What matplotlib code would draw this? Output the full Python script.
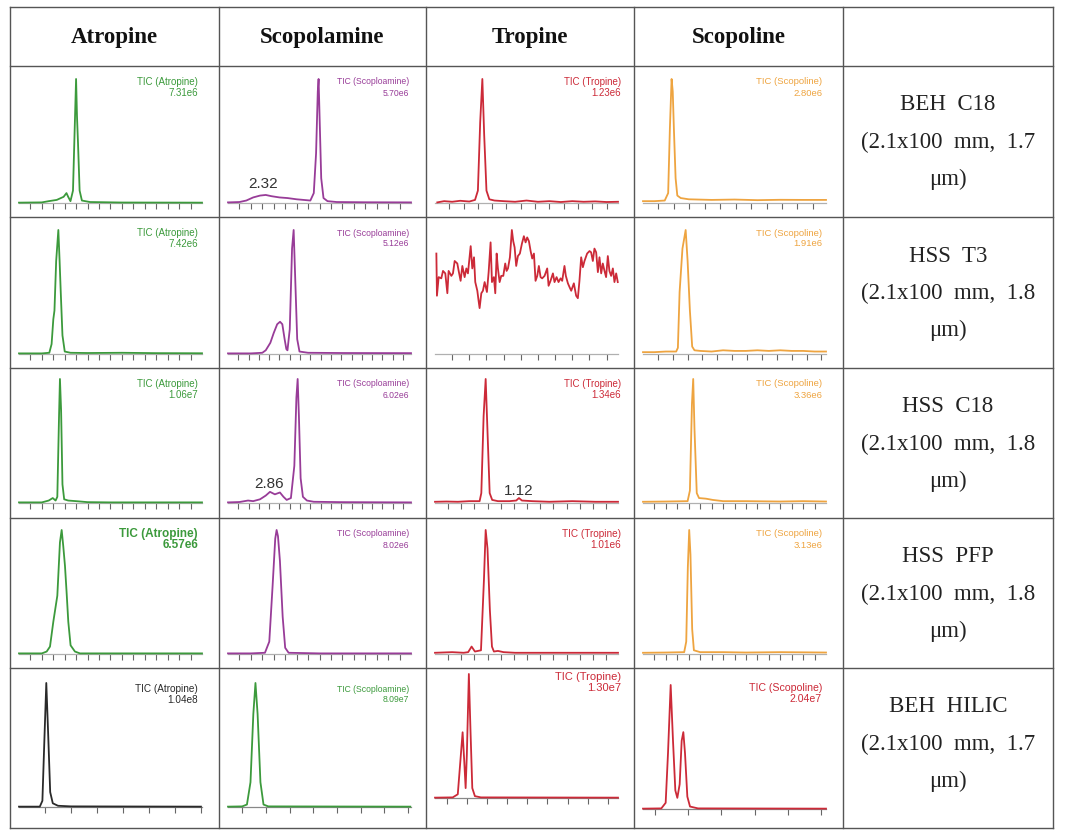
import numpy as np
import matplotlib
matplotlib.use('Agg')
import matplotlib.pyplot as plt

# column / row headers
compounds = ['Atropine', 'Scopolamine', 'Tropine', 'Scopoline']
columns = [['BEH  C18', '(2.1x100  mm,  1.7', '\u03bcm)'],
           ['HSS  T3', '(2.1x100  mm,  1.8', '\u03bcm)'],
           ['HSS  C18', '(2.1x100  mm,  1.8', '\u03bcm)'],
           ['HSS  PFP', '(2.1x100  mm,  1.8', '\u03bcm)'],
           ['BEH  HILIC', '(2.1x100  mm,  1.7', '\u03bcm)']]

# TIC labels (name, max intensity) per row
tic_names = ['TIC (Atropine)', 'TIC (Scoploamine)', 'TIC (Tropine)', 'TIC (Scopoline)']
tic_max = [['7.31e6', '5.70e6', '1.23e6', '2.80e6'],
           ['7.42e6', '5.12e6', '', '1.91e6'],
           ['1.06e7', '6.02e6', '1.34e6', '3.36e6'],
           ['6.57e6', '8.02e6', '1.01e6', '3.13e6'],
           ['1.04e8', '8.09e7', '1.30e7', '2.04e7']]

# ---- chromatograms: time (min) and relative intensity (%) ----
# BEH C18
atr_beh_t = [0, 2.0, 2.6, 3.3, 3.9, 4.15, 4.3, 4.5, 4.72, 4.9, 4.99, 5.07, 5.16, 5.3, 5.5, 6.2, 9, 16]
atr_beh_i = [0.3, 0.5, 1.5, 2.5, 5, 8, 5, 1.5, 10, 70, 100, 70, 48, 10, 2, 0.8, 0.4, 0.3]
scp_beh_t = [0, 1.0, 1.6, 2.2, 2.8, 3.3, 3.8, 4.5, 5.2, 6.0, 6.6, 7.2, 7.5, 7.7, 7.85, 7.92, 8.02, 8.15, 8.35, 8.7, 9.5, 12, 16]
scp_beh_i = [0.5, 0.8, 2, 4.5, 6, 6.5, 5.5, 4.5, 4, 3, 2.5, 2, 8, 40, 90, 100, 65, 20, 4, 1.5, 0.8, 0.6, 0.5]
trp_beh_t = [0.2, 0.8, 1.5, 2.2, 3.0, 3.5, 3.75, 3.95, 4.14, 4.3, 4.5, 4.75, 5.2, 6.0, 7.0, 8.0, 9.0, 10.0, 11.0, 12.0, 13.0, 14.0, 15.0, 16.0]
trp_beh_i = [0.5, 1.5, 1, 1.8, 1.2, 2.5, 10, 65, 100, 55, 10, 3, 2, 1.5, 1, 2, 1, 1.5, 0.8, 1.5, 1, 1.3, 0.8, 1]
scl_beh_t = [0, 1.0, 1.9, 2.2, 2.35, 2.5, 2.6, 2.7, 2.85, 3.0, 3.3, 4.0, 6.0, 8.0, 10.0, 12.0, 14.0, 16.0]
scl_beh_i = [1.5, 1.5, 2, 8, 60, 100, 90, 60, 20, 6, 4, 3, 2.5, 2.8, 2.3, 2.6, 2.5, 2.5]

# HSS T3
atr_t3_t = [0, 2.0, 2.65, 2.85, 3.0, 3.1, 3.25, 3.44, 3.55, 3.65, 3.8, 4.0, 4.5, 6, 9, 12, 16]
atr_t3_i = [0.5, 0.5, 1, 8, 28, 35, 75, 100, 75, 50, 15, 2, 1, 0.8, 1, 0.7, 0.6]
scp_t3_t = [0, 2.0, 3.0, 3.3, 3.7, 4.0, 4.3, 4.55, 4.75, 4.95, 5.1, 5.2, 5.4, 5.6, 5.74, 5.88, 6.05, 6.25, 7.0, 10, 16]
scp_t3_i = [0.5, 0.5, 1, 3, 9, 17, 24, 26, 24, 12, 4, 3, 20, 85, 100, 60, 12, 2, 1, 0.8, 0.7]
trp_t3_t = [0.12, 0.17, 0.32, 0.55, 0.70, 0.90, 1.08, 1.19, 1.43, 1.57, 1.72, 1.95, 2.07, 2.24, 2.39,
            2.59, 2.74, 2.88, 3.12, 3.26, 3.41, 3.52, 3.70, 3.81, 3.90, 4.05, 4.19, 4.34, 4.54, 4.69,
            4.86, 4.98, 5.15, 5.27, 5.39, 5.50, 5.65, 5.79, 5.97, 6.14, 6.26, 6.38, 6.55, 6.72, 6.84,
            6.96, 7.10, 7.25, 7.42, 7.60, 7.77, 7.92, 8.06, 8.21, 8.36, 8.50, 8.65, 8.79, 8.94, 9.08,
            9.23, 9.37, 9.58, 9.81, 9.93, 10.10, 10.31, 10.45, 10.63, 10.80, 10.98, 11.12, 11.32, 11.44,
            11.62, 11.76, 11.91, 12.14, 12.34, 12.49, 12.63, 12.78, 12.93, 13.07, 13.30, 13.51, 13.65,
            13.80, 13.94, 14.09, 14.24, 14.38, 14.53, 14.67, 14.82, 14.96, 15.11, 15.25, 15.40, 15.55,
            15.69, 15.84, 15.98]
trp_t3_i = [81, 47, 62, 61, 67, 65, 49, 67, 63, 65, 75, 73, 67, 59, 71,
            62, 69, 65, 87, 69, 78, 58, 51, 43, 37, 49, 51, 58, 50, 66,
            90, 58, 62, 49, 81, 69, 58, 63, 63, 73, 67, 69, 78, 100, 91,
            86, 71, 79, 81, 89, 95, 90, 94, 91, 83, 77, 81, 59, 63, 71,
            62, 61, 63, 69, 55, 59, 65, 58, 62, 58, 61, 59, 71, 63,
            57, 54, 51, 57, 47, 45, 59, 78, 70, 75, 81, 83, 82,
            75, 85, 82, 66, 78, 65, 73, 67, 62, 79, 67, 63, 69,
            58, 65, 58]
scl_t3_t = [0, 1.0, 2.0, 2.9, 3.05, 3.2, 3.45, 3.73, 3.9, 4.1, 4.3, 4.5, 5.0, 6.0, 7.0, 8.0, 9.0, 10.0, 11.0, 12.0, 13.0, 14.0, 15.0, 16.0]
scl_t3_i = [1.5, 1.5, 2, 2, 5, 50, 85, 100, 75, 35, 6, 3, 2.5, 2, 3, 2.5, 2.5, 3, 2.5, 3, 2.5, 2.5, 2, 2]

# HSS C18
atr_c18_t = [0, 2.0, 2.6, 2.95, 3.2, 3.35, 3.5, 3.58, 3.68, 3.8, 3.95, 4.3, 5.0, 6.0, 8.0, 16]
atr_c18_i = [0.5, 0.5, 2, 4, 2, 5, 70, 100, 75, 15, 3, 2, 1.5, 0.7, 0.5, 0.5]
scp_c18_t = [0, 1.0, 1.75, 2.2, 2.8, 3.3, 3.67, 4.1, 4.54, 4.85, 5.13, 5.5, 5.8, 5.98, 6.09, 6.2, 6.35, 6.55, 6.9, 7.5, 10, 16]
scp_c18_i = [0.5, 0.8, 2, 1.5, 3, 6, 9, 7, 8.5, 5, 2.5, 4, 30, 85, 100, 70, 20, 5, 2, 1, 0.7, 0.5]
trp_c18_t = [0, 1, 2, 3, 3.9, 4.05, 4.25, 4.43, 4.6, 4.78, 5.0, 5.5, 6.5, 7.1, 7.34, 7.6, 8.5, 10, 12, 14, 16]
trp_c18_i = [1, 1.2, 1, 1.5, 1.5, 8, 70, 100, 55, 8, 2.5, 1.5, 1.5, 2, 4, 2, 1.5, 1, 1.5, 1, 1]
scl_c18_t = [0, 2, 3.9, 4.1, 4.28, 4.39, 4.5, 4.7, 4.9, 5.5, 6.1, 7, 9, 12, 14, 16]
scl_c18_i = [1, 1.2, 1.5, 10, 80, 100, 60, 8, 4, 3.5, 2.5, 1.5, 1.5, 1.2, 1.5, 1.2]

# HSS PFP
atr_pfp_t = [0, 2.0, 2.42, 2.71, 3.0, 3.35, 3.58, 3.73, 3.87, 4.02, 4.16, 4.31, 4.51, 4.89, 5.33, 8, 16]
atr_pfp_i = [0.5, 0.5, 2, 6, 26, 47, 90, 100, 87, 71, 50, 26, 7, 2, 0.5, 0.5, 0.5]
scp_pfp_t = [0, 2, 3.23, 3.61, 3.9, 4.13, 4.25, 4.37, 4.54, 4.78, 5.0, 5.3, 8, 16]
scp_pfp_i = [0.5, 0.5, 1, 10, 55, 93, 100, 95, 75, 30, 5, 1, 0.5, 0.5]
trp_pfp_t = [0, 1.5, 2.5, 2.9, 3.2, 3.49, 4.02, 4.28, 4.43, 4.59, 4.8, 4.98, 5.15, 5.5, 6, 7, 9, 11, 13, 16]
trp_pfp_i = [1, 1.5, 1, 1.5, 6, 2, 3, 60, 100, 85, 35, 6, 2, 2.5, 1.5, 1, 1, 1, 1, 1]
scl_pfp_t = [0, 2, 3.6, 3.78, 3.92, 4.04, 4.15, 4.3, 4.45, 5, 7, 9, 12, 16]
scl_pfp_i = [1, 1.2, 1.5, 10, 70, 100, 80, 20, 3, 1.5, 1.5, 1.2, 1.5, 1.2]

# BEH HILIC
atr_hilic_t = [0, 0.8, 0.9, 0.97, 1.05, 1.12, 1.2, 1.3, 1.5, 2.0, 7.0]
atr_hilic_i = [0.3, 0.3, 5, 50, 100, 60, 12, 3, 1, 0.5, 0.3]
scp_hilic_t = [0.4, 1.0, 1.2, 1.35, 1.47, 1.56, 1.65, 1.77, 1.9, 2.1, 8.1]
scp_hilic_i = [0.3, 0.5, 2, 20, 75, 100, 75, 20, 2, 0.5, 0.3]
trp_hilic_t = [0.42, 1.3, 1.55, 1.68, 1.79, 1.87, 1.94, 2.0, 2.1, 2.18, 2.27, 2.4, 2.7, 9.5]
trp_hilic_i = [0.3, 0.5, 3, 30, 53, 30, 8, 35, 100, 55, 8, 1.5, 0.5, 0.3]
scl_hilic_t = [0.65, 1.2, 1.33, 1.4, 1.48, 1.55, 1.62, 1.68, 1.75, 1.81, 1.86, 1.91, 1.98, 2.06, 2.3, 6.14]
scl_hilic_i = [0.3, 0.5, 5, 45, 100, 55, 15, 9, 20, 55, 62, 45, 10, 2, 0.5, 0.3]

traces = [[(atr_beh_t, atr_beh_i), (scp_beh_t, scp_beh_i), (trp_beh_t, trp_beh_i), (scl_beh_t, scl_beh_i)],
          [(atr_t3_t, atr_t3_i), (scp_t3_t, scp_t3_i), (trp_t3_t, trp_t3_i), (scl_t3_t, scl_t3_i)],
          [(atr_c18_t, atr_c18_i), (scp_c18_t, scp_c18_i), (trp_c18_t, trp_c18_i), (scl_c18_t, scl_c18_i)],
          [(atr_pfp_t, atr_pfp_i), (scp_pfp_t, scp_pfp_i), (trp_pfp_t, trp_pfp_i), (scl_pfp_t, scl_pfp_i)],
          [(atr_hilic_t, atr_hilic_i), (scp_hilic_t, scp_hilic_i), (trp_hilic_t, trp_hilic_i), (scl_hilic_t, scl_hilic_i)]]

# peak retention-time annotations (row, col, text, time, intensity)
peak_notes = [(0, 1, '2.32', 3.1, 10), (2, 1, '2.86', 3.6, 10), (2, 2, '1.12', 7.3, 4)]

# ---- styles / layout (pixels) ----
GREEN = '#3c9a3c'
PURPLE = '#983c98'
RED = '#cc2a38'
ORANGE = '#eea440'
BLACK = '#2a2a2a'
colors = [[GREEN, PURPLE, RED, ORANGE],
          [GREEN, PURPLE, RED, ORANGE],
          [GREEN, PURPLE, RED, ORANGE],
          [GREEN, PURPLE, RED, ORANGE],
          [BLACK, GREEN, RED, RED]]

W, H = 1067, 840
col_x = [10, 219, 426, 634, 843, 1053]
row_y = [7, 66, 217, 368, 518, 668, 828]

xlims = [[(0, 16)] * 4] * 4 + [[(0, 7.04), (0.4, 8.13), (0.42, 9.5), (0.65, 6.14)]]
tick_step = [[1, 1, 1.25, 1.35],
             [1, 0.9, 1.5, 1.3],
             [1, 0.9, 1.15, 1.0],
             [1, 1, 1.15, 1.0],
             [1, 1, 1, 1]]
y_shift = [[0, 0, 0, 0], [0, 0, 0, 0], [-2, -2, -2, -2], [-1, -1, -1, -1], [2, 2, -7, 4]]
lab_size = [[7, 6.2, 7, 6.8], [7, 6.2, 7, 6.8], [7, 6.2, 7, 6.8], [8.5, 6.2, 7.2, 6.8], [7.2, 6.2, 8, 7.6]]
lab_dy = [[0, 0, 0, 0], [0, 0, 0, 0], [0, 0, 0, 0], [0, 0, 0, 0], [5, 5, -7, 4]]
lab_right = [188, 190, 195, 188]

fig = plt.figure(figsize=(W / 100, H / 100), dpi=100)
bg = fig.add_axes([0, 0, 1, 1])
bg.set_xlim(0, W)
bg.set_ylim(H, 0)
bg.axis('off')

# table grid
for y in row_y:
    bg.plot([col_x[0], col_x[-1]], [y, y], color='#555555', lw=1.0)
for x in col_x:
    bg.plot([x, x], [row_y[0], row_y[-1]], color='#555555', lw=1.0)

for j, name in enumerate(compounds):
    bg.text((col_x[j] + col_x[j + 1]) / 2, 37, name, ha='center', va='center',
            fontsize=16.5, fontweight='bold', family='Liberation Serif', color='#111111')

for r, lines in enumerate(columns):
    cx = (col_x[4] + col_x[5]) / 2
    for k, line in enumerate(lines):
        bg.text(cx, row_y[r + 1] + 39 + 37 * k, line, ha='center', va='center',
                fontsize=16.5, family='Liberation Serif', color='#222222')

for r in range(5):
    top = row_y[r + 1]
    for c in range(4):
        t, inten = traces[r][c]
        left = col_x[c] + 9
        ax_top = top + 11 + y_shift[r][c]
        ax = fig.add_axes([left / W, 1 - (ax_top + 128) / H, 183 / W, 128 / H])
        ax.patch.set_alpha(0)
        ax.set_xlim(*xlims[r][c])
        ax.set_ylim(-1.6, 101.6)
        base_col = '#888888' if r == 4 else '#b0b0b0'
        ax.plot(t, inten, color=colors[r][c], lw=1.3, zorder=3, clip_on=False)
        for s in ['top', 'right', 'left']:
            ax.spines[s].set_visible(False)
        ax.spines['bottom'].set_position(('data', 0))
        ax.spines['bottom'].set_color(base_col)
        ax.spines['bottom'].set_linewidth(0.9)
        st = tick_step[r][c]
        x0, x1 = xlims[r][c]
        ax.set_xticks(np.arange(np.ceil(x0 / st) * st if x0 > 0 else st, x1, st))
        ax.tick_params(axis='x', length=4, width=0.8, color='#666666', labelbottom=False, direction='out')
        ax.set_yticks([])

        if tic_max[r][c]:
            lx = col_x[c] + lab_right[c]
            ly = top + 16 + lab_dy[r][c]
            fw = 'bold' if (r == 3 and c == 0) else 'normal'
            bg.text(lx, ly, tic_names[c], ha='right', va='center', fontsize=lab_size[r][c],
                    family='Liberation Sans', color=colors[r][c], fontweight=fw)
            bg.text(lx, ly + 11, tic_max[r][c], ha='right', va='center', fontsize=lab_size[r][c],
                    family='Liberation Sans', color=colors[r][c], fontweight=fw)

        for (nr, nc, txt, nt, ni) in peak_notes:
            if nr == r and nc == c:
                ax.text(nt, ni, txt, ha='center', va='bottom', fontsize=11,
                        family='Liberation Sans', color='#333333')

fig.savefig('out.png', dpi=100)
